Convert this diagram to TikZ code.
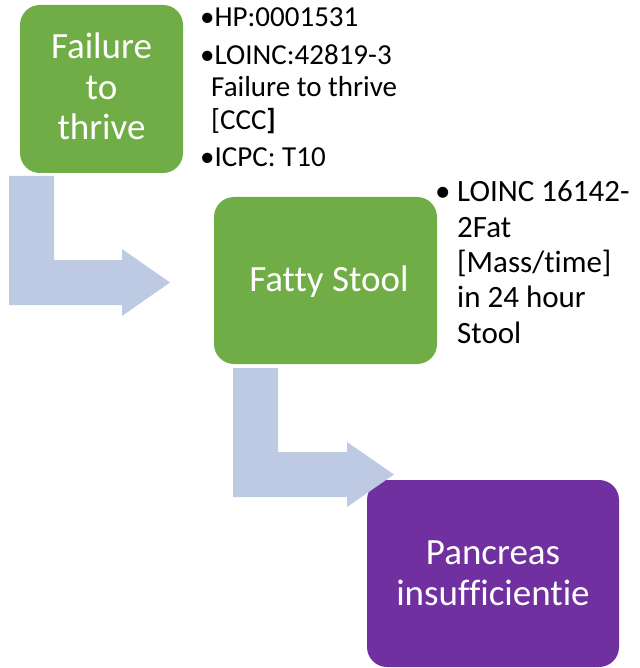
\documentclass[tikz,border=0pt]{standalone}
\usepackage{fontspec}
\setmainfont[Ligatures=NoCommon]{Carlito}
\definecolor{boxgreen}{HTML}{70AD47}
\definecolor{boxpurple}{HTML}{7030A0}
\definecolor{arrowblue}{HTML}{BEC9E4}
\begin{document}
\begin{tikzpicture}[x=1pt,y=-1pt,
  box/.style={rounded corners=20pt, inner sep=0pt, text=white, align=center},
  boxtxt/.style={text=white, font=\fontsize{37}{40}\selectfont, anchor=base, inner sep=0pt},
  lista/.style={font=\fontsize{29}{32}\selectfont, anchor=base west, inner sep=0pt},
  listb/.style={font=\fontsize{31}{35}\selectfont, anchor=base west, inner sep=0pt},
  bentarrow/.style={fill=arrowblue, draw=none}]
\useasboundingbox (0,0) rectangle (639,668);
% boxes
\node[box, fill=boxgreen, minimum width=163pt, minimum height=168pt] (b1) at (101.5,89) {};
\node[box, fill=boxgreen, minimum width=223pt, minimum height=167pt] (b2) at (325.5,280.5) {};
\node[box, fill=boxpurple, minimum width=252pt, minimum height=187pt] (b3) at (493,573.5) {};
% box texts
\node[boxtxt] (t1a) at (101.5,59) {Failure};
\node[boxtxt] (t1b) at (101.5,100) {to};
\node[boxtxt] (t1c) at (101.5,140) {thrive};
\node[boxtxt] (t2) at (329,291) {Fatty Stool};
\node[boxtxt] (t3a) at (493,564) {Pancreas};
\node[boxtxt] (t3b) at (493,605) {insufficientie};
% bent arrows
\path[bentarrow] (9,176) -- (54,176) -- (54,260) -- (122,260) -- (122,249) -- (170,282.5) -- (122,316) -- (122,305) -- (9,305) -- cycle;
\path[bentarrow] (233,368) -- (278,368) -- (278,452) -- (347,452) -- (347,442) -- (394,474.5) -- (347,507) -- (347,497) -- (233,497) -- cycle;
% list 1
\node[lista] (l1a) at (200,27) {•HP:0001531};
\node[lista] (l1b) at (200,65) {•LOINC:42819-3};
\node[lista] (l1c) at (211,97) {Failure to thrive};
\node[lista] (l1d) at (211,130) {[CCC\textbf{]}};
\node[lista] (l1e) at (200,167) {•ICPC: T10};
% list 2
\node[listb] (l2bul) at (435,202) {•};
\node[listb] (l2a) at (457,202) {LOINC 16142-};
\node[listb] (l2b) at (457,237) {2Fat};
\node[listb] (l2c) at (457,272) {[Mass/time]};
\node[listb] (l2d) at (457,307) {in 24 hour};
\node[listb] (l2e) at (457,343) {Stool};
\end{tikzpicture}
\end{document}
